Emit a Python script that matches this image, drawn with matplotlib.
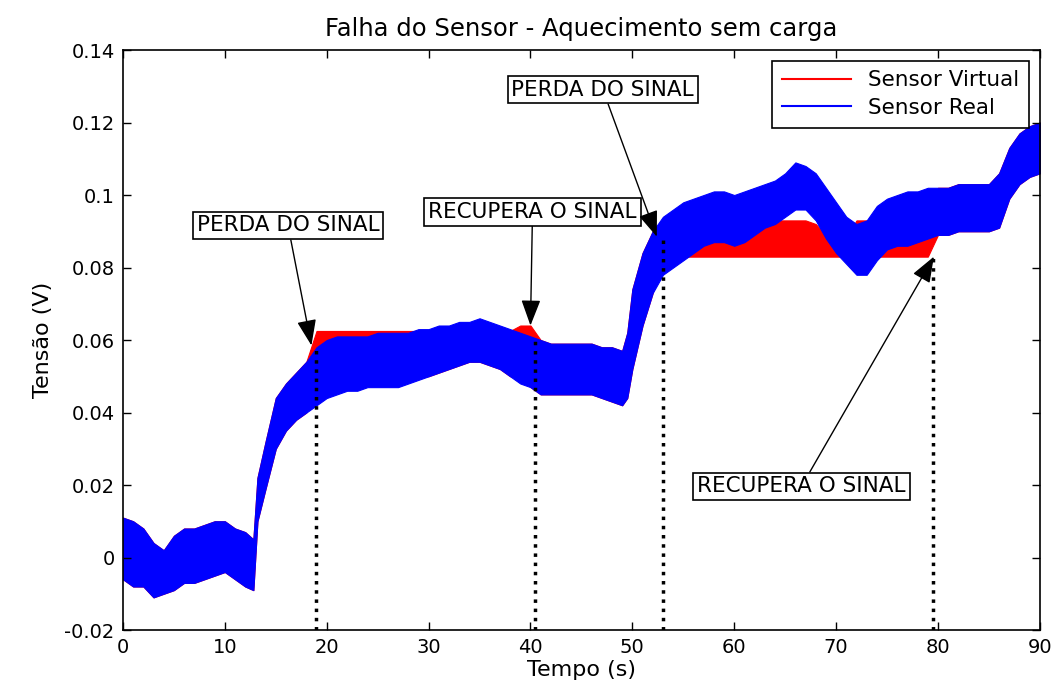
import numpy as np
import matplotlib
matplotlib.use('Agg')
import matplotlib.pyplot as plt
from matplotlib.lines import Line2D

# tempo (s) e envelopes (min / max)
t = np.array([0, 1, 2, 3, 4, 5, 6, 7, 8, 9, 10, 11, 12, 12.8, 13.2, 14, 15, 16, 17, 18,
              19, 20, 21, 22, 23, 24, 25, 26, 27, 28, 29, 30, 31, 32, 33, 34, 35, 36, 37, 38,
              39, 40, 41, 42, 43, 44, 45, 46, 47, 48, 49, 49.5, 50, 51, 52, 53, 54, 55, 56, 57,
              58, 59, 60, 61, 62, 63, 64, 65, 66, 67, 68, 69, 70, 71, 72, 73, 74, 75, 76, 77,
              78, 79, 80, 81, 82, 83, 84, 85, 86, 87, 88, 89, 90])

real_min = np.array([-0.006, -0.008, -0.008, -0.011, -0.010, -0.009, -0.007, -0.007, -0.006, -0.005,
                     -0.004, -0.006, -0.008, -0.009, 0.010, 0.019, 0.030, 0.035, 0.038, 0.040,
                     0.042, 0.044, 0.045, 0.046, 0.046, 0.047, 0.047, 0.047, 0.047, 0.048,
                     0.049, 0.050, 0.051, 0.052, 0.053, 0.054, 0.054, 0.053, 0.052, 0.050,
                     0.048, 0.047, 0.045, 0.045, 0.045, 0.045, 0.045, 0.045, 0.044, 0.043,
                     0.042, 0.044, 0.052, 0.064, 0.073, 0.078, 0.080, 0.082, 0.084, 0.086,
                     0.087, 0.087, 0.086, 0.087, 0.089, 0.091, 0.092, 0.094, 0.096, 0.096,
                     0.093, 0.088, 0.084, 0.081, 0.078, 0.078, 0.082, 0.085, 0.086, 0.086,
                     0.087, 0.088, 0.089, 0.089, 0.090, 0.090, 0.090, 0.090, 0.091, 0.099,
                     0.103, 0.105, 0.106])
real_max = np.array([0.011, 0.010, 0.008, 0.004, 0.002, 0.006, 0.008, 0.008, 0.009, 0.010,
                     0.010, 0.008, 0.007, 0.005, 0.022, 0.032, 0.044, 0.048, 0.051, 0.054,
                     0.058, 0.060, 0.061, 0.061, 0.061, 0.061, 0.062, 0.062, 0.062, 0.062,
                     0.063, 0.063, 0.064, 0.064, 0.065, 0.065, 0.066, 0.065, 0.064, 0.063,
                     0.062, 0.061, 0.060, 0.059, 0.059, 0.059, 0.059, 0.059, 0.058, 0.058,
                     0.057, 0.062, 0.074, 0.084, 0.090, 0.094, 0.096, 0.098, 0.099, 0.100,
                     0.101, 0.101, 0.100, 0.101, 0.102, 0.103, 0.104, 0.106, 0.109, 0.108,
                     0.106, 0.102, 0.098, 0.094, 0.092, 0.093, 0.097, 0.099, 0.100, 0.101,
                     0.101, 0.102, 0.102, 0.102, 0.103, 0.103, 0.103, 0.103, 0.106, 0.113,
                     0.117, 0.119, 0.120])

virtual_min = np.array([-0.006, -0.008, -0.008, -0.011, -0.010, -0.009, -0.007, -0.007, -0.006, -0.005,
                        -0.004, -0.006, -0.008, -0.009, 0.010, 0.019, 0.030, 0.035, 0.038, 0.040,
                        0.050, 0.050, 0.050, 0.050, 0.050, 0.050, 0.050, 0.050, 0.050, 0.050,
                        0.050, 0.050, 0.051, 0.052, 0.053, 0.054, 0.054, 0.053, 0.052, 0.050,
                        0.050, 0.047, 0.045, 0.045, 0.045, 0.045, 0.045, 0.045, 0.044, 0.043,
                        0.042, 0.044, 0.052, 0.064, 0.073, 0.083, 0.083, 0.083, 0.083, 0.083,
                        0.083, 0.083, 0.083, 0.083, 0.083, 0.083, 0.083, 0.083, 0.083, 0.083,
                        0.083, 0.083, 0.083, 0.083, 0.083, 0.083, 0.083, 0.083, 0.083, 0.083,
                        0.083, 0.083, 0.089, 0.089, 0.090, 0.090, 0.090, 0.090, 0.091, 0.099,
                        0.103, 0.105, 0.106])
virtual_max = np.array([0.011, 0.010, 0.008, 0.004, 0.002, 0.006, 0.008, 0.008, 0.009, 0.010,
                        0.010, 0.008, 0.007, 0.005, 0.022, 0.032, 0.044, 0.048, 0.051, 0.054,
                        0.0625, 0.0625, 0.0625, 0.0625, 0.0625, 0.0625, 0.0625, 0.0625, 0.0625, 0.0625,
                        0.0625, 0.0625, 0.0625, 0.0625, 0.0625, 0.0625, 0.0625, 0.0625, 0.0625, 0.0625,
                        0.064, 0.064, 0.060, 0.059, 0.059, 0.059, 0.059, 0.059, 0.058, 0.058,
                        0.057, 0.062, 0.074, 0.084, 0.090, 0.092, 0.090, 0.089, 0.088, 0.088,
                        0.088, 0.088, 0.089, 0.090, 0.091, 0.092, 0.093, 0.093, 0.093, 0.093,
                        0.092, 0.089, 0.088, 0.088, 0.093, 0.093, 0.090, 0.089, 0.089, 0.089,
                        0.089, 0.089, 0.102, 0.102, 0.103, 0.103, 0.103, 0.103, 0.106, 0.113,
                        0.117, 0.119, 0.120])

# marcadores de evento
eventos_t = [18.9, 40.4, 53.0, 79.5]
eventos_topo = [0.0585, 0.060, 0.089, 0.083]
notas = ["PERDA DO SINAL", "RECUPERA O SINAL", "PERDA DO SINAL", "RECUPERA O SINAL"]
notas_seta = [(18.5, 0.0585), (40.0, 0.0640), (52.4, 0.0885), (79.6, 0.0830)]
notas_texto = [(16.2, 0.0916), (40.2, 0.0954), (47.1, 0.1291), (66.6, 0.0196)]

plt.rcParams['font.family'] = 'DejaVu Sans'

fig = plt.figure(figsize=(10.6, 6.93), dpi=100)
ax = fig.add_axes([0.116, 0.0909, 0.865, 0.8369])

ax.fill_between(t, virtual_min, virtual_max, color='red', lw=0.8)
ax.fill_between(t, real_min, real_max, color='blue', lw=0.8)

ax.vlines(eventos_t, -0.02, eventos_topo, colors='k', linestyles=':', lw=2.5, zorder=3)

for txt, xy, xyt in zip(notas, notas_seta, notas_texto):
    ax.annotate(txt, xy=xy, xytext=xyt, textcoords='data', ha='center', va='center',
                fontsize=15.5,
                bbox=dict(boxstyle='square,pad=0.18', fc='white', ec='k', lw=1.2),
                arrowprops=dict(arrowstyle='-|>,head_length=0.8,head_width=0.3',
                                color='k', lw=1.0, mutation_scale=20,
                                shrinkA=0, shrinkB=0),
                zorder=5)

ax.set_xlim(0, 90)
ax.set_ylim(-0.02, 0.14)
ax.set_xticks(np.arange(0, 91, 10))
ax.set_yticks(np.arange(-0.02, 0.141, 0.02))
ax.set_yticklabels(['-0.02', '0', '0.02', '0.04', '0.06', '0.08', '0.1', '0.12', '0.14'])
ax.tick_params(direction='in', length=6, width=1, labelsize=14, top=True, right=True, pad=6)
for s in ax.spines.values():
    s.set_linewidth(1.2)

ax.set_title("Falha do Sensor - Aquecimento sem carga", fontsize=17.5, pad=10)
ax.set_xlabel("Tempo (s)", fontsize=16, labelpad=2)
ax.set_ylabel("Tensão (V)", fontsize=16, labelpad=8)

handles = [Line2D([], [], color='red', lw=1.5), Line2D([], [], color='blue', lw=1.5)]
leg = ax.legend(handles, ["Sensor Virtual", "Sensor Real"], loc='upper right',
                fontsize=15.5, handlelength=3.2, fancybox=False, edgecolor='k',
                framealpha=1, borderaxespad=0.5, labelspacing=0.35, borderpad=0.45)
leg.get_frame().set_linewidth(1.2)

plt.savefig("out.png", dpi=100)
